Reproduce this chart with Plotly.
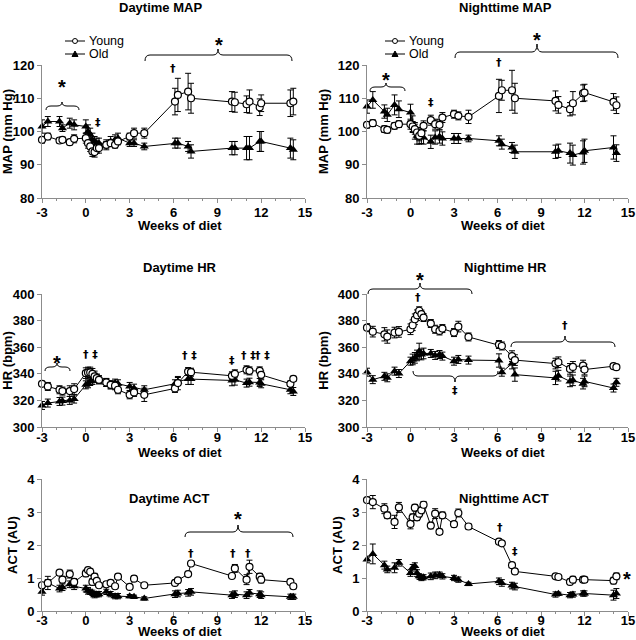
import plotly.graph_objects as go

# ---------------- data ----------------
weeks = [-3, -2.6, -1.8, -1.6, -1.1, -0.8, 0, 0.15, 0.3, 0.45, 0.6, 0.75, 0.9,
         1.4, 1.7, 2.0, 2.2, 3.0, 3.3, 4.0, 6.1, 6.3, 7.0, 7.2,
         10.0, 10.2, 11.0, 11.2, 11.9, 12.0, 14.0, 14.2]

day_map_young = [97.5, 98.5, 97.3, 97.5, 96.8, 97.8, 98, 96.5, 95.5, 94, 93.8, 95, 95,
                 96, 96.5, 96, 97, 98.5, 99.5, 99.5, 109, 111, 112, 110,
                 109, 108.8, 108.2, 109, 107.3, 108.5, 108.5, 109]
day_map_young_sem = [1, 1, 0.8, 0.8, 0.8, 1.2, 1.5, 1.5, 1.5, 1.5, 1.5, 1.5, 1.5,
                     1, 1, 1, 1, 1, 1.5, 1.5, 4, 5, 5.5, 4.5,
                     3, 3, 2.5, 3.5, 2.5, 2.5, 4, 4]
day_map_old = [101.5, 103, 103, 101, 102.5, 102, 101.5, 100, 99, 97.5, 97, 96.5, 96.5,
               96, 97, 97.5, 98, 96.5, 96.5, 95.5, 96.5, 96.5, 95.5, 94,
               95, 95, 95, 95, 97, 97, 95, 94.5]
day_map_old_sem = [2, 1.5, 1.5, 1, 1.5, 1.5, 2, 2, 2, 2, 1.5, 1.5, 1.5,
                   1.5, 1.5, 1.5, 1.5, 1, 1, 1, 1.5, 1.5, 1.5, 2,
                   2, 2, 3.5, 3.5, 3, 3, 3, 3]

night_map_young = [102, 102.5, 100.7, 100.5, 101.7, 102.2, 102.2, 101.5, 100.7, 99.7, 98.7, 99.5, 101.7,
                   103.4, 102.2, 102, 104.2, 105.2, 104.7, 104.4, 110.7, 112.4, 112.4, 110,
                   109.2, 108, 106.7, 108.5, 111.5, 111.7, 108.9, 107.9]
night_map_young_sem = [1, 1, 1, 1, 1, 1, 1.5, 1.5, 1.5, 1.5, 1.5, 1.5, 1.5,
                       1.5, 1.5, 1.5, 1.5, 1.2, 1.2, 2, 5, 3, 6, 4.5,
                       3, 2.5, 2, 3.5, 2.5, 2.5, 2.5, 2.5]
night_map_old = [107.5, 109.5, 106, 105, 108, 106.7, 105.7, 102.2, 100.2, 98.7, 98.2, 98.4, 98.2,
                 96.9, 98.2, 98.5, 97.9, 97.9, 97.9, 97.9, 97.2, 96.2, 95.2, 93.9,
                 93.9, 94.2, 93.5, 92.9, 93.7, 94.2, 95.2, 93.5]
night_map_old_sem = [2, 2.5, 2, 2, 3, 2.5, 2.5, 2.5, 2.5, 2.5, 2, 2, 2,
                     2, 2, 2, 2, 1.5, 1.5, 1, 1.5, 1.5, 1.5, 2,
                     2, 2, 3, 3, 3.5, 3.5, 3.5, 2.5]

day_hr_young = [332.5, 330.5, 328, 327, 327, 328.5, 340.5, 341, 341, 340, 338, 336.7, 335.5,
                333.5, 331.7, 331, 328, 324.2, 326, 324.2, 329, 333, 341.7, 341.2,
                338.5, 340, 343, 342.2, 342.2, 339.2, 332.5, 336.2]
day_hr_young_sem = [2, 3, 3, 3, 4, 4, 4, 4, 4, 4, 4, 3, 3,
                    3, 3, 3, 3, 3, 3, 5, 3, 5, 3, 3,
                    3, 3, 3, 3, 3, 3, 2, 2]
day_hr_old = [316.2, 318, 319.2, 319.5, 320, 321, 331.7, 332.5, 334.2, 335, 337.5, 336.7, 335.5,
              333.5, 331.7, 333, 332.5, 330.5, 329.2, 328, 332.5, 334.2, 336, 336,
              335, 335.5, 333, 333.7, 333.5, 332.5, 328, 326.7]
day_hr_old_sem = [3, 3, 3, 3, 3, 3, 3, 3, 3, 3, 3, 3, 3,
                  3, 3, 3, 3, 3, 3, 3, 3, 3, 4, 4,
                  4, 4, 3, 3, 3, 3, 3, 3]

night_hr_young = [374.7, 371.7, 369.7, 368, 371, 371.5, 373.5, 376.5, 381, 384, 387.4, 384.9, 382.3,
                  377.8, 373.5, 372.2, 374, 371, 375.5, 367.7, 362, 360.9, 353.3, 350.3,
                  347.7, 348.7, 343.7, 345.2, 346.2, 343.2, 345.7, 345]
night_hr_young_sem = [3, 4, 5, 5, 4, 4, 4, 4, 4, 4, 3, 3, 3,
                      3, 3, 3, 3, 3, 4, 3, 3, 3, 4, 4,
                      4, 4, 4, 4, 4, 4, 1, 1]
night_hr_old = [341.2, 335.6, 338.1, 337, 342, 340.2, 349.5, 350.8, 352, 353.8, 357, 354.5, 355.3,
                355.3, 353.8, 354.5, 353.3, 349.5, 350.8, 350.3, 350, 341.2, 347.7, 339.4,
                336.9, 338.6, 334.3, 335.1, 332.6, 334.3, 329.3, 333.6]
night_hr_old_sem = [3, 3, 3, 3, 3, 3, 3, 4, 4, 4, 6, 4, 4,
                    3, 3, 3, 3, 3, 3, 3, 5, 3, 4, 5,
                    5, 4, 4, 4, 4, 4, 3, 3]

day_act_young = [0.78, 0.85, 1.16, 0.95, 1.12, 0.88, 1.14, 1.24, 1.19, 0.88, 1.04, 0.91, 0.78,
                 0.81, 0.85, 0.75, 1.04, 0.73, 0.98, 0.78, 0.85, 0.93, 1.12, 1.44,
                 1.06, 1.29, 0.95, 1.34, 1.04, 0.95, 0.88, 0.75]
day_act_young_sem = [0.08, 0.1, 0.05, 0.1, 0.12, 0.1, 0.1, 0.08, 0.1, 0.1, 0.1, 0.08, 0.05,
                     0.08, 0.08, 0.05, 0.08, 0.05, 0.08, 0.05, 0.08, 0.08, 0.08, 0.05,
                     0.05, 0.12, 0.15, 0.2, 0.1, 0.1, 0.08, 0.08]
day_act_old = [0.58, 0.85, 0.68, 0.72, 0.81, 0.75, 0.68, 0.61, 0.58, 0.55, 0.48, 0.51, 0.51,
               0.58, 0.51, 0.45, 0.45, 0.45, 0.43, 0.38, 0.51, 0.53, 0.55, 0.58,
               0.48, 0.51, 0.48, 0.55, 0.51, 0.48, 0.43, 0.43]
day_act_old_sem = [0.1, 0.2, 0.1, 0.1, 0.1, 0.1, 0.1, 0.1, 0.08, 0.08, 0.08, 0.08, 0.08,
                   0.08, 0.08, 0.08, 0.08, 0.05, 0.05, 0.05, 0.1, 0.1, 0.1, 0.1,
                   0.1, 0.1, 0.1, 0.1, 0.1, 0.1, 0.08, 0.08]

night_act_young = [3.36, 3.3, 3.1, 2.9, 2.7, 3.14, 2.64, 2.84, 3.13, 2.84, 2.95, 3.05, 3.22,
                   2.59, 2.95, 2.4, 2.9, 2.63, 2.97, 2.56, 2.1, 2.05, 1.39, 1.2,
                   1.05, 1.03, 0.88, 0.95, 0.95, 0.95, 0.92, 1.05]
night_act_young_sem = [0.1, 0.2, 0.15, 0.1, 0.2, 0.15, 0.15, 0.1, 0.1, 0.1, 0.1, 0.1, 0.1,
                       0.1, 0.15, 0.08, 0.1, 0.08, 0.12, 0.08, 0.05, 0.05, 0.05, 0.08,
                       0.05, 0.05, 0.08, 0.1, 0.08, 0.08, 0.1, 0.1]
night_act_old = [1.56, 1.73, 1.39, 1.26, 1.31, 1.46, 1.15, 1.31, 1.36, 1.15, 1.05, 1.0, 1.02,
                 1.05, 1.08, 1.1, 1.05, 1.0, 0.95, 0.82, 0.9, 0.85, 0.77, 0.74,
                 0.5, 0.52, 0.48, 0.5, 0.53, 0.53, 0.48, 0.53]
night_act_old_sem = [0.1, 0.3, 0.12, 0.1, 0.15, 0.1, 0.1, 0.1, 0.1, 0.1, 0.08, 0.08, 0.08,
                     0.1, 0.1, 0.08, 0.08, 0.08, 0.08, 0.05, 0.1, 0.1, 0.1, 0.1,
                     0.08, 0.05, 0.08, 0.08, 0.08, 0.08, 0.15, 0.15]

x_tickvals = [-3, 0, 3, 6, 9, 12, 15]
x_ticktext = ["-3", "0", "3", "6", "9", "12", "15"]
map_ticks = [80, 90, 100, 110, 120]
hr_ticks = [300, 320, 340, 360, 380, 400]
act_ticks = [0, 1, 2, 3, 4]

panel_titles = ["Daytime MAP", "Nighttime MAP", "Daytime HR", "Nighttime HR",
                "Daytime ACT", "Nighttime ACT"]
y_titles = ["MAP (mm Hg)", "MAP (mm Hg)", "HR (bpm)", "HR (bpm)", "ACT (AU)", "ACT (AU)"]
x_title = "Weeks of diet"

# ---------------- layout helpers ----------------
W, H = 636, 640
FONT = "Arial, Liberation Sans, Helvetica, sans-serif"
SYMFONT = "DejaVu Sans, Arial, sans-serif"


def px(x):
    return x / W


def py(y):
    return 1 - y / H


cols = [(42, 305), (367, 628)]
rows = [(65, 198), (294, 427), (479, 611)]
label_shift = [-2, -6, -7]

series = [
    (day_map_young, day_map_young_sem, day_map_old, day_map_old_sem, map_ticks),
    (night_map_young, night_map_young_sem, night_map_old, night_map_old_sem, map_ticks),
    (day_hr_young, day_hr_young_sem, day_hr_old, day_hr_old_sem, hr_ticks),
    (night_hr_young, night_hr_young_sem, night_hr_old, night_hr_old_sem, hr_ticks),
    (day_act_young, day_act_young_sem, day_act_old, day_act_old_sem, act_ticks),
    (night_act_young, night_act_young_sem, night_act_old, night_act_old_sem, act_ticks),
]

fig = go.Figure()
layout = dict(
    width=W, height=H, margin=dict(l=0, r=0, t=0, b=0),
    paper_bgcolor="white", plot_bgcolor="white",
    template="none", showlegend=False,
    font=dict(family=FONT, color="black", size=13),
)

axis_color = "#8c8c8c"

for i, (yv, ye, ov, oe, yt) in enumerate(series):
    r, c = divmod(i, 2)
    n = "" if i == 0 else str(i + 1)
    xa, ya = "x" + n, "y" + n
    fig.add_trace(go.Scatter(
        x=weeks, y=ov, xaxis=xa, yaxis=ya, name="Old", mode="lines+markers",
        line=dict(color="black", width=1),
        marker=dict(symbol="triangle-up", size=8, color="black"),
        error_y=dict(type="data", array=oe, color="black", thickness=1, width=3),
        cliponaxis=False,
    ))
    fig.add_trace(go.Scatter(
        x=weeks, y=yv, xaxis=xa, yaxis=ya, name="Young", mode="lines+markers",
        line=dict(color="black", width=1),
        marker=dict(symbol="circle", size=7, color="white",
                    line=dict(color="black", width=1.2)),
        error_y=dict(type="data", array=ye, color="black", thickness=1, width=3),
        cliponaxis=False,
    ))
    x0, x1 = cols[c]
    y0, y1 = rows[r]
    layout["xaxis" + n] = dict(
        domain=[px(x0), px(x1)], anchor=ya, range=[-3, 15],
        tickvals=x_tickvals, ticktext=x_ticktext,
        showline=True, linecolor=axis_color, linewidth=1,
        ticks="outside", ticklen=4, tickcolor=axis_color, tickwidth=1,
        minor=dict(dtick=1, tick0=0, ticks="outside", ticklen=2, tickcolor=axis_color),
        showgrid=False, zeroline=False, automargin=False,
        ticklabelstandoff=label_shift[r], ticklabeloverflow="allow",
        tickfont=dict(family=FONT, size=13, weight="bold"),
    )
    layout["yaxis" + n] = dict(
        domain=[py(y1), py(y0)], anchor=xa, range=[yt[0], yt[-1]],
        tickvals=yt,
        showline=True, linecolor=axis_color, linewidth=1,
        ticks="outside", ticklen=4, tickcolor=axis_color, tickwidth=1,
        showgrid=False, zeroline=False, automargin=False,
        ticklabeloverflow="allow",
        tickfont=dict(family=FONT, size=13, weight="bold"),
        title=dict(text=y_titles[i], standoff=6,
                   font=dict(family=FONT, size=13, weight="bold")),
    )

fig.update_layout(**layout)

annotations = []
shapes = []


def text(t, x, y, size=13, bold=True, xanchor="center", family=FONT):
    annotations.append(dict(
        text=t, x=px(x), y=py(y), xref="paper", yref="paper",
        showarrow=False, xanchor=xanchor, yanchor="middle",
        font=dict(family=family, size=size, color="black",
                  weight="bold" if bold else "normal"),
    ))


# panel titles
title_pos = [(160, 8), (505, 8), (180, 267), (505, 267), (169, 498), (504, 498)]
for t, (x, y) in zip(panel_titles, title_pos):
    text(t, x, y, size=13)

# x axis titles
for (x, y) in [(180, 225), (503, 225), (180, 452), (503, 452), (180, 631), (503, 631)]:
    text(x_title, x, y, size=13)


# curly braces
def brace(x1, x2, yh, d, xm, yc, rr=5):
    pts = [
        f"M{px(x1)},{py(yh + d)}",
        f"Q{px(x1)},{py(yh)} {px(x1 + rr)},{py(yh)}",
        f"L{px(xm - rr)},{py(yh)}",
        f"Q{px(xm)},{py(yh)} {px(xm)},{py(yc)}",
        f"Q{px(xm)},{py(yh)} {px(xm + rr)},{py(yh)}",
        f"L{px(x2 - rr)},{py(yh)}",
        f"Q{px(x2)},{py(yh)} {px(x2)},{py(yh + d)}",
    ]
    shapes.append(dict(type="path", path=" ".join(pts), xref="paper", yref="paper",
                       line=dict(color="black", width=1)))


brace(46, 79, 106, 4, 62, 102)
brace(145, 292, 55, 6, 218, 49)
brace(370, 405, 87, 4, 386, 83)
brace(455, 618, 52, 6, 537, 44)
brace(45, 70, 367, 4, 57, 363)
brace(368, 472, 289, 5, 420, 283)
brace(511, 615, 342, 5, 565, 336)
brace(413, 498, 376, -5, 455, 382)
brace(185, 293, 532, 5, 238, 525)

# significance marks
for (x, y) in [(62, 82), (219, 40), (386, 75), (537, 35), (57, 358),
               (420, 275), (238, 514), (627, 574)]:
    text("*", x, y + 5, size=20)
for (t, x, y) in [("†", 173, 69), ("‡", 98, 122), ("†", 499, 63), ("‡", 431, 102),
                  ("† ‡", 90, 354), ("† ‡", 189, 355), ("‡", 232, 360),
                  ("† ‡", 248, 355), ("† ‡", 262, 355),
                  ("†", 418, 297), ("†", 565, 325), ("‡", 455, 390),
                  ("†", 191, 553), ("†", 233, 553), ("†", 248, 553),
                  ("†", 500, 527), ("‡", 515, 551)]:
    text(t, x, y, size=11, family=SYMFONT)

# legends (top panels)
for dx in (0, 320):
    yy, yo = 41, 54
    shapes.append(dict(type="line", xref="paper", yref="paper",
                       x0=px(65 + dx), x1=px(85 + dx), y0=py(yy), y1=py(yy),
                       line=dict(color="black", width=1)))
    shapes.append(dict(type="circle", xref="paper", yref="paper",
                       x0=px(72.5 + dx), x1=px(77.5 + dx), y0=py(yy + 2.5), y1=py(yy - 2.5),
                       fillcolor="white", line=dict(color="black", width=1)))
    text("Young", 87 + dx, yy, size=12.5, bold=False, xanchor="left")
    shapes.append(dict(type="line", xref="paper", yref="paper",
                       x0=px(65 + dx), x1=px(85 + dx), y0=py(yo), y1=py(yo),
                       line=dict(color="black", width=1)))
    shapes.append(dict(type="path", xref="paper", yref="paper",
                       path=f"M{px(72 + dx)},{py(yo + 2.5)} L{px(78 + dx)},{py(yo + 2.5)} "
                            f"L{px(75 + dx)},{py(yo - 3)} Z",
                       fillcolor="black", line=dict(color="black", width=1)))
    text("Old", 87 + dx, yo, size=12.5, bold=False, xanchor="left")

fig.update_layout(annotations=annotations, shapes=shapes)
# the page body's default 8 px margin would push the figure off the window corner
fig.write_html("out.html", config={"displayModeBar": False},
               post_script="document.body.style.margin='0px';")
